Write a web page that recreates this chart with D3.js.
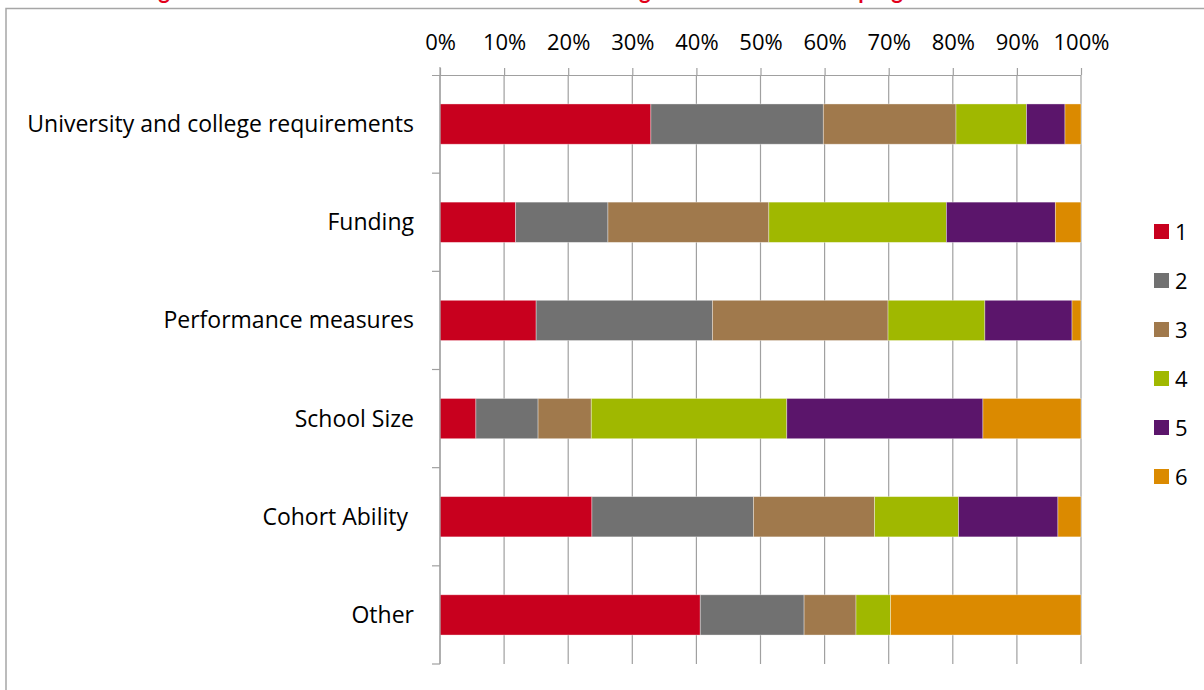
<!DOCTYPE html>
<html>
<head>
<meta charset="utf-8">
<script src="https://cdn.jsdelivr.net/npm/d3@7"></script>
<style>
  html, body { margin: 0; padding: 0; background: #fff; }
  svg { display: block; }
  text { font-family: "Open Sans", sans-serif; fill: #000; }
</style>
</head>
<body>
<svg id="chart" width="1204" height="690"></svg>
<script>
const categories = ["University and college requirements", "Funding", "Performance measures", "School Size", "Cohort Ability ", "Other"];
const seriesNames = ["1", "2", "3", "4", "5", "6"];
const s1 = [32.9, 11.8, 15.0, 5.6, 23.7, 40.6];
const s2 = [26.9, 14.4, 27.5, 9.7, 25.2, 16.2];
const s3 = [20.7, 25.1, 27.4, 8.3, 18.9, 8.1];
const s4 = [11.0, 27.7, 15.1, 30.5, 13.1, 5.4];
const s5 = [6.0, 17.0, 13.6, 30.6, 15.5, 0.0];
const s6 = [2.5, 4.0, 1.4, 15.3, 3.6, 29.7];
const tickValues = [0, 0.1, 0.2, 0.3, 0.4, 0.5, 0.6, 0.7, 0.8, 0.9, 1.0];
const colors = ["#C8001E", "#717171", "#A0794C", "#A0B800", "#5B156B", "#DB8A00"];
const titleText = "Figure 6: Main factors that affect schools in deciding whether to offer the program in their school";

(function () {
const seriesVals = [s1, s2, s3, s4, s5, s6];
const rows = categories.map((c, i) => {
  const r = { cat: c };
  seriesNames.forEach((s, j) => r[s] = seriesVals[j][i]);
  return r;
});
const stacked = d3.stack().keys(seriesNames).offset(d3.stackOffsetExpand)(rows);

const svg = d3.select("#chart");

// frame
svg.append("path").attr("d", "M6,700 L6,8.5 L1210,8.5")
  .attr("fill", "none").attr("stroke", "#A6A6A6").attr("stroke-width", 1.5);

// title (mostly cut off at top, as in the reference)
svg.append("text").attr("x", 612).attr("y", -1).attr("text-anchor", "middle")
  .style("font-family", "Lato, sans-serif").style("font-weight", "bold").style("font-size", "22px")
  .style("fill", "#E2001A").text(titleText);

const pLeft = 440, pRight = 1081, pTop = 75, pBottom = 664;
const x = d3.scaleLinear().domain([0, 1]).range([pLeft, pRight]);
const y = d3.scaleBand().domain(categories).range([pTop, pBottom]).paddingInner(0.59).paddingOuter(0.295);

// gridlines
svg.append("g").selectAll("line").data(tickValues).join("line")
  .attr("x1", d => x(d)).attr("x2", d => x(d))
  .attr("y1", pTop).attr("y2", pBottom)
  .attr("stroke", "#A0A0A0").attr("stroke-width", 1.2);

// bars
svg.append("g").selectAll("g").data(stacked).join("g")
  .attr("fill", (d, i) => colors[i])
  .selectAll("rect").data(d => d).join("rect")
  .attr("x", d => x(d[0]))
  .attr("width", d => Math.max(0, x(d[1]) - x(d[0])))
  .attr("y", d => y(d.data.cat))
  .attr("height", y.bandwidth())
  .attr("stroke", "rgba(255,255,255,0.45)").attr("stroke-width", 0.8);

// top axis
const xAxis = d3.axisTop(x).tickValues(tickValues).tickFormat(d3.format(".0%"))
  .tickSize(7).tickSizeOuter(0).tickPadding(18);
const gx = svg.append("g").attr("transform", `translate(0,${pTop})`).call(xAxis);
gx.select(".domain").attr("d", `M${pLeft - 8},0.5H${pRight}`).attr("stroke", "#A0A0A0").attr("stroke-width", 1.2);
gx.selectAll(".tick line").attr("stroke", "#A0A0A0").attr("stroke-width", 1.2);
gx.selectAll(".tick text").style("font-size", "22px").style("font-family", "'Open Sans', sans-serif").attr("fill", "#000");

// left axis: boundary ticks
const boundaries = d3.range(categories.length + 1).map(i => pTop + i * y.step());
const gy = svg.append("g");
gy.append("line").attr("x1", pLeft).attr("x2", pLeft).attr("y1", pTop - 8).attr("y2", pBottom)
  .attr("stroke", "#A0A0A0").attr("stroke-width", 1.2);
gy.selectAll("line.tk").data(boundaries.slice(1)).join("line").attr("class", "tk")
  .attr("x1", pLeft - 8).attr("x2", pLeft).attr("y1", d => d).attr("y2", d => d)
  .attr("stroke", "#A0A0A0").attr("stroke-width", 1.2);

// category labels
svg.append("g").selectAll("text").data(categories).join("text")
  .attr("x", 414).attr("y", d => y(d) + y.bandwidth() / 2)
  .attr("dy", "0.35em").attr("text-anchor", "end")
  .style("font-size", "23px").style("white-space", "pre")
  .text(d => d);

// legend
const lg = svg.append("g").selectAll("g").data(seriesNames).join("g")
  .attr("transform", (d, i) => `translate(1154,${224 + i * 49})`);
lg.append("rect").attr("width", 15).attr("height", 15).attr("fill", (d, i) => colors[i]);
lg.append("text").attr("x", 21).attr("y", 8).attr("dy", "0.36em")
  .style("font-size", "22px").text(d => d);
})();
</script>
</body>
</html>
